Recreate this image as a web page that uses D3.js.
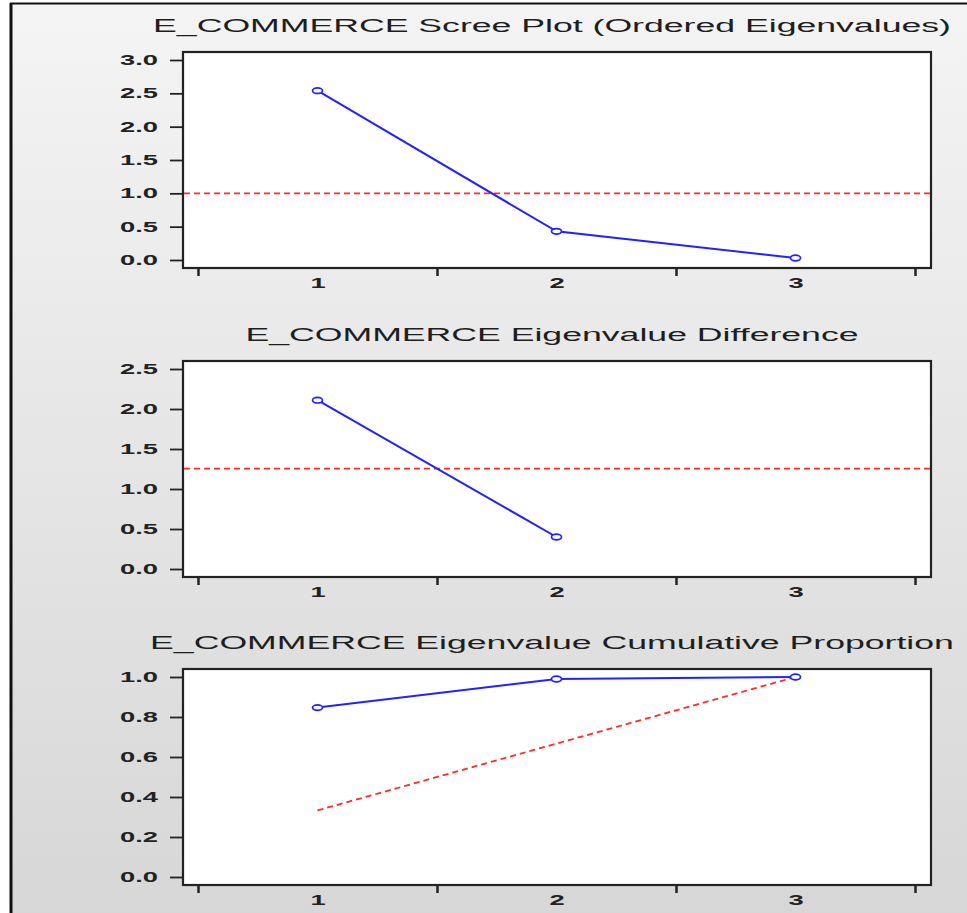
<!DOCTYPE html>
<html>
<head>
<meta charset="utf-8">
<script src="https://cdn.jsdelivr.net/npm/d3@7"></script>
<style>
  body { margin: 0; background: #fff; }
  svg { display: block; }
</style>
</head>
<body>
<div id="chart-area"></div>
<script>
// values
var components = [1, 2, 3];
var eigenvalues = [2.54, 0.43, 0.03];
var eigenDiff = [2.11, 0.40];
var cumProportion = [0.847, 0.99, 1.0];
var equalProportion = [0.333, 0.667, 1.0];
var eigenMean = 1.0;
var diffMean = 1.255;

var ticksScree = [0, 0.5, 1.0, 1.5, 2.0, 2.5, 3.0];
var ticksDiff = [0, 0.5, 1.0, 1.5, 2.0, 2.5];
var ticksCum = [0, 0.2, 0.4, 0.6, 0.8, 1.0];

var titles = [
    "E_COMMERCE Scree Plot (Ordered Eigenvalues)",
    "E_COMMERCE Eigenvalue Difference",
    "E_COMMERCE Eigenvalue Cumulative Proportion"
];

var W = 967, H = 913;
// the screenshot is squashed sideways, so text looks wide
var titleStretch = 1.98;
var tickStretch = 1.95;
var fontFam = "'Liberation Sans', Arial, sans-serif";

var svg = d3.select("#chart-area")
    .append("svg")
    .attr("width", W)
    .attr("height", H);

var grad = svg.append("defs").append("linearGradient")
    .attr("id", "bg")
    .attr("x1", 0).attr("y1", 0).attr("x2", 0).attr("y2", 1);
grad.append("stop").attr("offset", "0%").attr("stop-color", "#f4f4f4");
grad.append("stop").attr("offset", "100%").attr("stop-color", "#d7d7d7");

svg.append("rect")
    .attr("x", 11).attr("y", 4)
    .attr("width", W - 11).attr("height", H - 4)
    .attr("fill", "url(#bg)");
svg.append("line")
    .attr("x1", 11).attr("x2", 11).attr("y1", 3).attr("y2", H)
    .attr("stroke", "#111").attr("stroke-width", 3);
svg.append("line")
    .attr("x1", 10).attr("x2", W).attr("y1", 3.5).attr("y2", 3.5)
    .attr("stroke", "#111").attr("stroke-width", 2);

var left = 183, right = 931, frameH = 216;

var x = d3.scaleLinear()
    .domain([0.5, 3.5])
    .range([198, 915]);

function stretchText(sel, offsetX) {
    sel.attr("x", offsetX / tickStretch)
       .attr("transform", "scale(" + tickStretch + ",1)");
}

function drawPanel(top, title, yDomain, yTicks, fmt) {
    var g = svg.append("g");
    var y = d3.scaleLinear()
        .domain(yDomain)
        .range([top + 208, top + 8]);

    g.append("rect")
        .attr("x", left).attr("y", top)
        .attr("width", right - left).attr("height", frameH)
        .attr("fill", "#fff")
        .attr("stroke", "#222")
        .attr("stroke-width", 2.2);

    // title
    g.append("text")
        .attr("transform", "translate(552," + (top - 20) + ") scale(" + titleStretch + ",1)")
        .attr("text-anchor", "middle")
        .attr("font-family", fontFam)
        .attr("font-size", 18)
        .attr("fill", "#1e1e1e")
        .text(title);

    // y axis
    var yAxis = g.append("g")
        .attr("transform", "translate(" + left + ",0)")
        .call(d3.axisLeft(y).tickValues(yTicks).tickFormat(d3.format(fmt)).tickSize(13).tickPadding(12));
    yAxis.select(".domain").remove();
    yAxis.selectAll(".tick line").attr("stroke", "#222").attr("stroke-width", 1.8);
    yAxis.selectAll(".tick text")
        .attr("font-family", fontFam)
        .attr("font-size", 14)
        .attr("font-weight", "bold")
        .attr("fill", "#222")
        .call(stretchText, -25);

    // x axis: marks at band edges, labels at band centres
    var xMarks = g.append("g")
        .attr("transform", "translate(0," + (top + frameH) + ")")
        .call(d3.axisBottom(x).tickValues([0.5, 1.5, 2.5, 3.5]).tickFormat("").tickSize(8));
    xMarks.select(".domain").remove();
    xMarks.selectAll(".tick line").attr("stroke", "#222").attr("stroke-width", 2.5);

    var xLabels = g.append("g")
        .attr("transform", "translate(0," + (top + frameH) + ")")
        .call(d3.axisBottom(x).tickValues(components).tickFormat(d3.format("d")).tickSize(0).tickPadding(10));
    xLabels.select(".domain").remove();
    xLabels.selectAll(".tick text")
        .attr("font-family", fontFam)
        .attr("font-size", 14)
        .attr("font-weight", "bold")
        .attr("fill", "#222")
        .call(stretchText, 0);

    return {g: g, y: y};
}

function drawSeries(p, values) {
    var pts = values.map(function(v, i) { return [components[i], v]; });
    var line = d3.line()
        .x(function(d) { return x(d[0]); })
        .y(function(d) { return p.y(d[1]); });
    p.g.append("path")
        .datum(pts)
        .attr("d", line)
        .attr("fill", "none")
        .attr("stroke", "#2222ff")
        .attr("stroke-width", 2);
    p.g.selectAll("ellipse.pt")
        .data(pts)
        .enter()
        .append("ellipse")
        .attr("class", "pt")
        .attr("cx", function(d) { return x(d[0]); })
        .attr("cy", function(d) { return p.y(d[1]); })
        .attr("rx", 5)
        .attr("ry", 2.8)
        .attr("fill", "#fff")
        .attr("stroke", "#2222ff")
        .attr("stroke-width", 1.7);
}

function drawRefLine(p, value) {
    p.g.append("line")
        .attr("x1", left + 1).attr("x2", right - 1)
        .attr("y1", p.y(value)).attr("y2", p.y(value))
        .attr("stroke", "#ff2a2a")
        .attr("stroke-width", 1.8)
        .attr("stroke-dasharray", "6,4");
}

// panel 1 - scree
var p1 = drawPanel(52, titles[0], [0, 3], ticksScree, ".1f");
drawRefLine(p1, eigenMean);
drawSeries(p1, eigenvalues);

// panel 2 - differences
var p2 = drawPanel(361, titles[1], [0, 2.5], ticksDiff, ".1f");
drawRefLine(p2, diffMean);
drawSeries(p2, eigenDiff);

// panel 3 - cumulative
var p3 = drawPanel(669, titles[2], [0, 1], ticksCum, ".1f");
p3.g.append("path")
    .datum(equalProportion.map(function(v, i) { return [components[i], v]; }))
    .attr("d", d3.line()
        .x(function(d) { return x(d[0]); })
        .y(function(d) { return p3.y(d[1]); }))
    .attr("fill", "none")
    .attr("stroke", "#ff2a2a")
    .attr("stroke-width", 1.8)
    .attr("stroke-dasharray", "6,4");
drawSeries(p3, cumProportion);
</script>
</body>
</html>
